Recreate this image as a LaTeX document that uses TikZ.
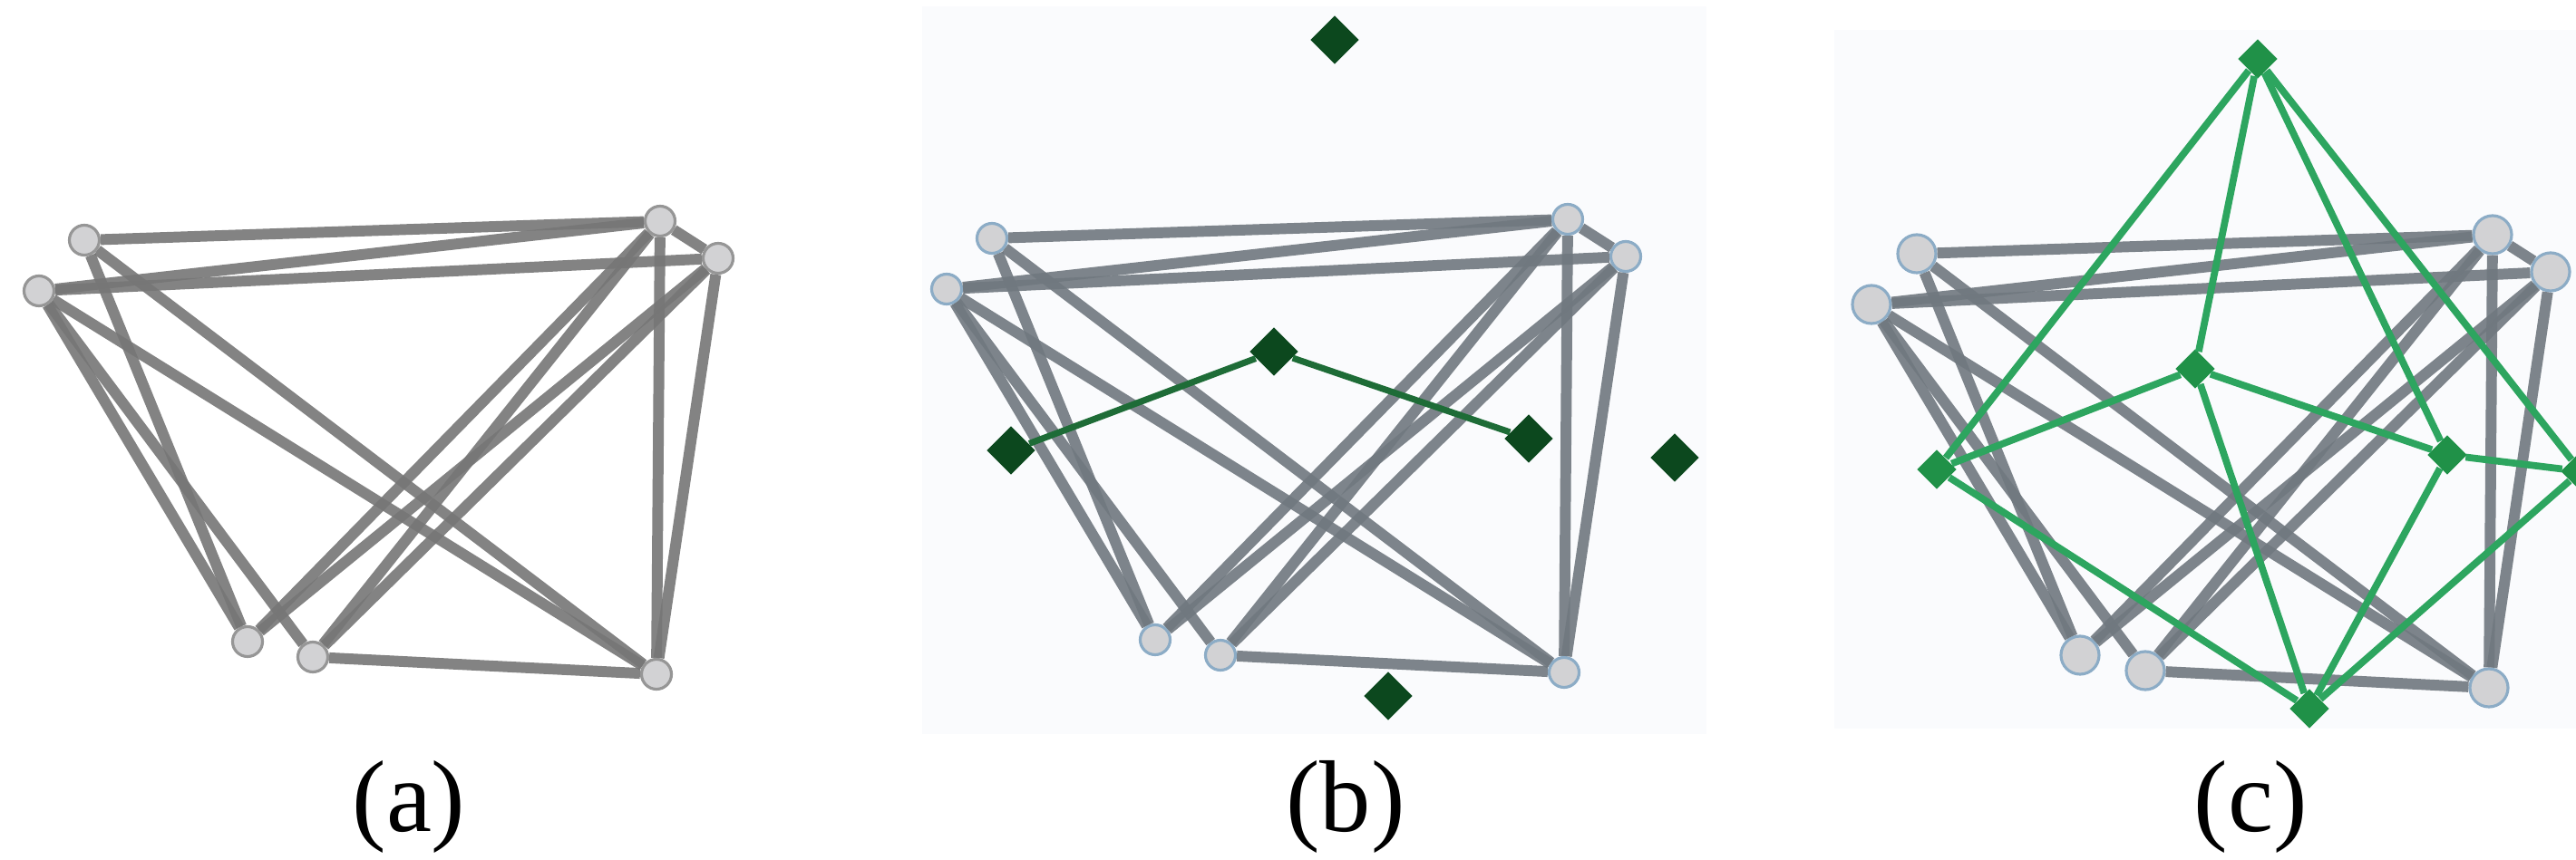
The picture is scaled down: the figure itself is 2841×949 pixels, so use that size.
\documentclass[tikz,border=0pt]{standalone}
\usepackage{fontspec}
\setmainfont{Liberation Serif}
\usetikzlibrary{shapes.geometric}

\definecolor{vfill}{RGB}{210,210,212}
\definecolor{vline}{RGB}{150,150,150}
\definecolor{vlineblue}{RGB}{140,172,198}
\definecolor{edgegray}{RGB}{118,118,118}
\definecolor{edgeblue}{RGB}{112,120,127}
\definecolor{panelbg}{RGB}{250,251,253}
\definecolor{darkgreen}{RGB}{12,72,30}
\definecolor{darkgreenline}{RGB}{30,108,55}
\definecolor{midgreen}{RGB}{32,145,72}
\definecolor{midgreenline}{RGB}{45,165,95}

\begin{document}
\begin{tikzpicture}[x=0.01cm,y=-0.01cm,
  vertex/.style={circle,fill=vfill,draw=vline,line width=0.9pt,minimum size=0.33cm,inner sep=0pt},
  edge/.style={draw=edgegray,line width=3.4pt,opacity=0.9},
  dia/.style={diamond,aspect=1,inner sep=0pt,minimum size=0.54cm},
  caption/.style={font=\fontsize{32}{36}\selectfont}]

\useasboundingbox (0,0) rectangle (2841,949);

% -----------------------
% Fonds des panneaux
% -----------------------
\fill[panelbg] (1017,7) rectangle (1882,810);
\fill[panelbg] (2023,33) rectangle (2841,804);

% -----------------------
% (a) graphe seul
% -----------------------
\node[vertex] (a1) at (93,265) {};
\node[vertex] (a2) at (43,321) {};
\node[vertex] (a3) at (728,244) {};
\node[vertex] (a4) at (792,285) {};
\node[vertex] (a5) at (273,708) {};
\node[vertex] (a6) at (345,725) {};
\node[vertex] (a7) at (724,744) {};

\foreach \u/\v in {1/3,2/3,2/4,1/5,2/5,2/6,1/7,2/7,5/3,5/4,6/3,6/4,3/4,3/7,4/7,6/7}
  \draw[edge] (a\u) -- (a\v);

% -----------------------
% (b) graphe + losanges
% -----------------------
\begin{scope}[shift={(1001,-2)},vertex/.append style={draw=vlineblue},edge/.append style={draw=edgeblue}]
\node[vertex] (b1) at (93,265) {};
\node[vertex] (b2) at (43,321) {};
\node[vertex] (b3) at (728,244) {};
\node[vertex] (b4) at (792,285) {};
\node[vertex] (b5) at (273,708) {};
\node[vertex] (b6) at (345,725) {};
\node[vertex] (b7) at (724,744) {};

\foreach \u/\v in {1/3,2/3,2/4,1/5,2/5,2/6,1/7,2/7,5/3,5/4,6/3,6/4,3/4,3/7,4/7,6/7}
  \draw[edge] (b\u) -- (b\v);
\end{scope}

\node[dia,fill=darkgreen] (bt) at (1472,44) {};
\node[dia,fill=darkgreen] (bm) at (1405,388) {};
\node[dia,fill=darkgreen] (bl) at (1115,497) {};
\node[dia,fill=darkgreen] (br) at (1686,484) {};
\node[dia,fill=darkgreen] (bf) at (1847,505) {};
\node[dia,fill=darkgreen] (bb) at (1531,768) {};

\draw[darkgreenline,line width=2pt] (bl) -- (bm) -- (br);

% -----------------------
% (c) graphe dual
% -----------------------
\begin{scope}[shift={(2021,15)},vertex/.append style={draw=vlineblue,minimum size=0.42cm},edge/.append style={draw=edgeblue}]
\node[vertex] (c1) at (93,265) {};
\node[vertex] (c2) at (43,321) {};
\node[vertex] (c3) at (728,244) {};
\node[vertex] (c4) at (792,285) {};
\node[vertex] (c5) at (273,708) {};
\node[vertex] (c6) at (345,725) {};
\node[vertex] (c7) at (724,744) {};

\foreach \u/\v in {1/3,2/3,2/4,1/5,2/5,2/6,1/7,2/7,5/3,5/4,6/3,6/4,3/4,3/7,4/7,6/7}
  \draw[edge] (c\u) -- (c\v);
\end{scope}

\node[dia,fill=midgreen,minimum size=0.44cm] (ct) at (2490,65) {};
\node[dia,fill=midgreen,minimum size=0.44cm] (cm) at (2421,407) {};
\node[dia,fill=midgreen,minimum size=0.44cm] (cl) at (2136,518) {};
\node[dia,fill=midgreen,minimum size=0.44cm] (cr) at (2699,502) {};
\node[dia,fill=midgreen,minimum size=0.44cm] (cf) at (2846,520) {};
\node[dia,fill=midgreen,minimum size=0.44cm] (cb) at (2547,782) {};

\foreach \u/\v in {t/l,t/m,t/r,t/f,m/l,m/r,m/b,l/b,r/b,r/f,f/b}
  \draw[midgreenline,line width=2.2pt] (c\u) -- (c\v);

% -----------------------
% Legendes
% -----------------------
\node[caption] (capa) at (451,890) {(a)};
\node[caption] (capb) at (1484,890) {(b)};
\node[caption] (capc) at (2482,890) {(c)};

\end{tikzpicture}
\end{document}
